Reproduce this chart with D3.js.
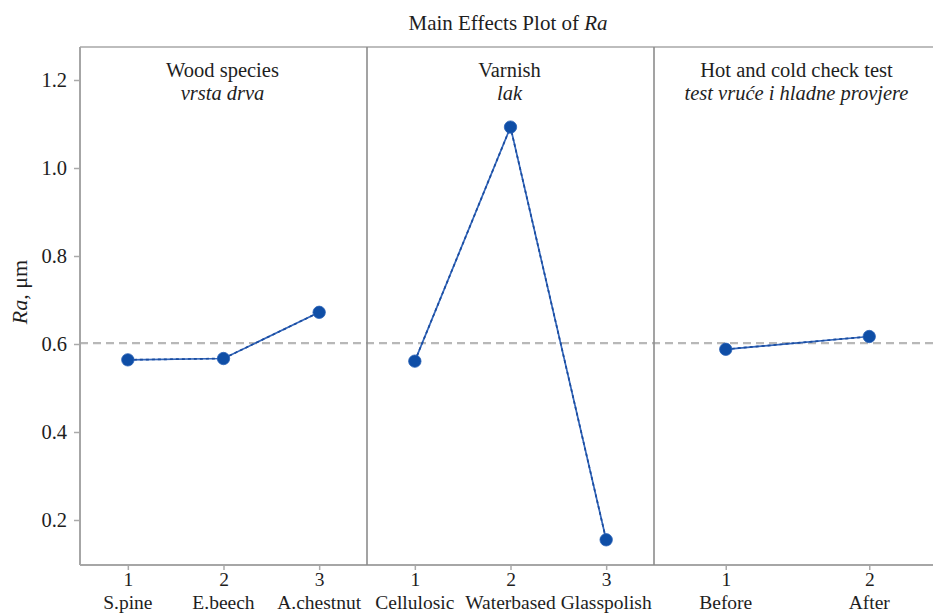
<!DOCTYPE html>
<html>
<head>
<meta charset="utf-8">
<script src="https://cdn.jsdelivr.net/npm/d3@7"></script>
<style>
  html, body { margin: 0; padding: 0; background: #fff; }
  svg { display: block; font-family: "Liberation Serif", "Times New Roman", serif; }
</style>
</head>
<body>
<svg id="chart" width="933" height="613"></svg>
<script>
// Factors, their levels and the mean Ra for each level
const factors = ["Wood species", "Varnish", "Hot and cold check test"];
const factorsLocal = ["vrsta drva", "lak", "test vruće i hladne provjere"];
const levelCodes = [["1", "2", "3"], ["1", "2", "3"], ["1", "2"]];
const levelNames = [
  ["S.pine", "E.beech", "A.chestnut"],
  ["Cellulosic", "Waterbased", "Glasspolish"],
  ["Before", "After"]
];
const meanRa = [
  [0.564, 0.567, 0.672],
  [0.561, 1.093, 0.155],
  [0.588, 0.617]
];
const grandMean = 0.602;
const yTicks = [0.2, 0.4, 0.6, 0.8, 1.0, 1.2];

const svg = d3.select("#chart");
const plot = { left: 80, right: 941, top: 47, bottom: 565 };

const y = d3.scaleLinear().domain([0.2, 1.2]).range([520, 80]);
const panel = d3.scaleBand().domain(factors).range([plot.left, plot.right]).padding(0);

const textColor = "#1e1e1e";
const frameColor = "#a6a6a6";
const lineColor = "#3366bb";
const markColor = "#0f4ea6";
const serif = "Liberation Serif, Times New Roman, serif";

// Title
const title = svg.append("text")
  .attr("x", 508)
  .attr("y", 30)
  .attr("text-anchor", "middle")
  .attr("font-size", 21)
  .attr("fill", textColor);
title.append("tspan").text("Main Effects Plot of ");
title.append("tspan").attr("font-style", "italic").text("Ra");

// Y axis label
const yl = svg.append("text")
  .attr("transform", "translate(27,292) rotate(-90)")
  .attr("text-anchor", "middle")
  .attr("font-size", 22)
  .attr("fill", textColor);
yl.append("tspan").attr("font-style", "italic").text("Ra");
yl.append("tspan").text(", μm");

// Y axis ticks and labels
const yAxis = d3.axisLeft(y).tickValues(yTicks).tickFormat(d3.format(".1f")).tickSize(6).tickPadding(7);
const yg = svg.append("g").attr("transform", `translate(${plot.left},0)`).call(yAxis);
yg.select(".domain").remove();
yg.selectAll(".tick line").attr("stroke", "#aaa").attr("stroke-width", 1.5);
yg.selectAll(".tick text").attr("font-size", 20.5).attr("fill", textColor).attr("font-family", serif);

// Grand mean reference line
svg.append("line")
  .attr("x1", plot.left).attr("x2", plot.right)
  .attr("y1", y(grandMean)).attr("y2", y(grandMean))
  .attr("stroke", "#b8b8b8").attr("stroke-width", 2.4)
  .attr("stroke-dasharray", "8,5");

factors.forEach((f, i) => {
  const x0 = panel(f);
  const bw = panel.bandwidth();
  const x = d3.scalePoint().domain(levelCodes[i]).range([x0, x0 + bw]).padding(0.5);

  // Panel headers
  svg.append("text")
    .attr("x", x0 + bw / 2 - 1).attr("y", 77)
    .attr("text-anchor", "middle").attr("font-size", 20.5).attr("fill", textColor)
    .text(f);
  svg.append("text")
    .attr("x", x0 + bw / 2 - 1).attr("y", 100)
    .attr("text-anchor", "middle").attr("font-size", 20.5).attr("font-style", "italic").attr("fill", textColor)
    .text(factorsLocal[i]);

  // Level codes on the bottom axis
  const xAxis = d3.axisBottom(x).tickSize(5).tickPadding(2);
  const xg = svg.append("g").attr("transform", `translate(0,${plot.bottom})`).call(xAxis);
  xg.select(".domain").remove();
  xg.selectAll(".tick line").attr("stroke", "#aaa").attr("stroke-width", 1.5);
  xg.selectAll(".tick text").attr("font-size", 19.5).attr("fill", textColor).attr("font-family", serif);

  // Level names
  svg.selectAll(null).data(levelNames[i]).enter().append("text")
    .attr("x", (d, j) => x(levelCodes[i][j]))
    .attr("y", 609)
    .attr("text-anchor", "middle").attr("font-size", 19.5).attr("fill", textColor)
    .text(d => d);

  const pts = meanRa[i].map((v, j) => [x(levelCodes[i][j]), y(v)]);

  // Connecting line
  svg.append("path")
    .attr("d", d3.line()(pts))
    .attr("fill", "none").attr("stroke", lineColor).attr("stroke-width", 1.7);
  svg.append("path")
    .attr("d", d3.line()(pts))
    .attr("fill", "none").attr("stroke", "#1a4c9f").attr("stroke-width", 1.7)
    .attr("stroke-dasharray", "3,3");

  // Level mean markers
  svg.selectAll(null).data(pts).enter().append("circle")
    .attr("cx", d => d[0]).attr("cy", d => d[1]).attr("r", 6.2)
    .attr("fill", markColor).attr("stroke", "#2a62b8").attr("stroke-width", 0.8);
});

// Panel frame and dividers
svg.append("line").attr("x1", plot.left).attr("x2", plot.right).attr("y1", plot.top).attr("y2", plot.top)
  .attr("stroke", "#bdbdbd").attr("stroke-width", 2);
svg.append("line").attr("x1", plot.left).attr("x2", plot.right).attr("y1", plot.bottom).attr("y2", plot.bottom)
  .attr("stroke", frameColor).attr("stroke-width", 2);
svg.append("line").attr("x1", plot.left).attr("x2", plot.left).attr("y1", plot.top).attr("y2", plot.bottom)
  .attr("stroke", frameColor).attr("stroke-width", 2);
factors.slice(1).forEach(f => {
  svg.append("line").attr("x1", panel(f)).attr("x2", panel(f)).attr("y1", plot.top).attr("y2", plot.bottom)
    .attr("stroke", "#8c8c8c").attr("stroke-width", 1.6);
});
</script>
</body>
</html>
